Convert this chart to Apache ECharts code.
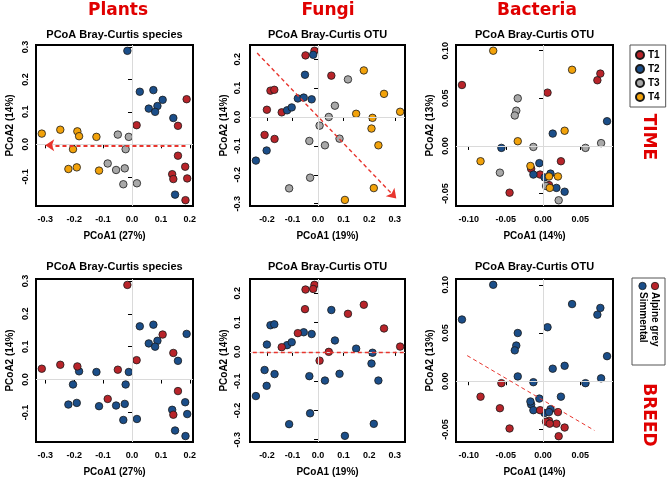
<!DOCTYPE html>
<html><head><meta charset="utf-8">
<script src="https://cdn.jsdelivr.net/npm/echarts@6/dist/echarts.min.js"></script>
<style>html,body{margin:0;padding:0;background:#fff}#c{width:667px;height:480px}</style>
</head><body><div id="c"></div>
<script>
// ---------- data ----------
const timeGroups = ['T1','T2','T3','T4'];
const breedGroups = ['Alpine grey','Simmental'];

const plantsX = [-0.016,0.027,0.074,0.106,0.058,0.088,0.080,0.143,0.149, 0.189,0.016,0.159,0.159,0.184,0.139,0.143,0.191,0.185, -0.049,-0.011,-0.022,-0.084,-0.055,-0.025,-0.030,0.017, -0.312,-0.248,-0.189,-0.183,-0.123,-0.204,-0.220,-0.191,-0.114];
const plantsY = [0.288,0.162,0.167,0.137,0.110,0.118,0.100,0.081,-0.155, 0.139,0.059,0.057,-0.035,-0.069,-0.092,-0.107,-0.105,-0.172, 0.030,0.023,-0.015,-0.059,-0.079,-0.074,-0.123,-0.120, 0.033,0.045,0.040,0.025,0.023,-0.015,-0.076,-0.071,-0.081];
const plantsTime = ['T2','T2','T2','T2','T2','T2','T2','T2','T2', 'T1','T1','T1','T1','T1','T1','T1','T1','T1', 'T3','T3','T3','T3','T3','T3','T3','T3', 'T4','T4','T4','T4','T4','T4','T4','T4','T4'];
const plantsBreed = ['A','S','S','A','S','S','S','A','S', 'S','A','S','A','S','S','A','S','S', 'A','S','S','A','S','S','S','S', 'A','A','A','S','S','S','S','S','S'];

const fungiX = [-0.014,-0.049,0.052,-0.186,-0.171,-0.200,-0.142,-0.209,-0.170, -0.019,-0.051,-0.079,-0.056,-0.025,-0.121,-0.103,-0.201,-0.243, 0.117,0.066,0.042,0.006,-0.034,0.027,0.084,-0.031,-0.113, 0.179,0.258,0.321,0.149,0.213,0.209,0.236,0.218,0.105];
const fungiY = [0.229,0.213,0.143,0.091,0.094,0.025,0.016,-0.062,-0.076, 0.215,0.146,0.064,0.067,0.061,0.023,0.033,-0.116,-0.151, 0.130,0.039,0.000,-0.030,-0.083,-0.098,-0.075,-0.210,-0.247, 0.161,0.080,0.018,0.011,-0.003,-0.040,-0.098,-0.246,-0.287];
const fungiTime = ['T1','T1','T1','T1','T1','T1','T1','T1','T1', 'T2','T2','T2','T2','T2','T2','T2','T2','T2', 'T3','T3','T3','T3','T3','T3','T3','T3','T3', 'T4','T4','T4','T4','T4','T4','T4','T4','T4'];
const fungiBreed = ['A','A','S','S','S','S','A','S','S', 'A','A','A','S','S','S','S','S','S', 'A','S','A','A','S','S','S','S','S', 'A','A','A','S','S','S','S','S','S'];

const bactX = [-0.109,0.006,0.073,0.077,0.024,-0.016,-0.004,0.008,-0.045, -0.056,0.013,0.086,-0.005,-0.013,0.002,0.010,0.018,0.029, -0.034,-0.036,-0.038,-0.013,0.057,0.078,-0.058,0.004,0.021, -0.067,0.039,0.029,-0.034,-0.084,-0.017,0.008,0.020,0.009];
const bactY = [0.064,0.056,0.069,0.076,-0.016,-0.024,-0.030,-0.041,-0.049, -0.002,0.013,0.026,-0.018,-0.030,-0.033,-0.029,-0.044,-0.048, 0.050,0.037,0.032,-0.001,-0.002,0.003,-0.028,-0.042,-0.057, 0.100,0.080,0.016,0.005,-0.016,-0.021,-0.032,-0.032,-0.044];
const bactTime = ['T1','T1','T1','T1','T1','T1','T1','T1','T1', 'T2','T2','T2','T2','T2','T2','T2','T2','T2', 'T3','T3','T3','T3','T3','T3','T3','T3','T3', 'T4','T4','T4','T4','T4','T4','T4','T4','T4'];
const bactBreed = ['S','S','S','S','S','S','A','A','A', 'A','S','S','S','S','S','S','A','A', 'S','S','S','S','S','S','A','A','A', 'S','S','S','S','A','S','S','A','A'];

const plantsXTicks = [-0.3,-0.2,-0.1,0.0,0.1,0.2];
const plantsYTicks = [-0.1,0.0,0.1,0.2,0.3];
const fungiXTicks = [-0.2,-0.1,0.0,0.1,0.2,0.3];
const fungiYTicks = [-0.3,-0.2,-0.1,0.0,0.1,0.2];
const bactXTicks = [-0.10,-0.05,0.00,0.05];
const bactYTicks = [-0.05,0.00,0.05,0.10];

const plantsArrow = [[0.185,-0.003],[-0.300,-0.003]];
const fungiArrow = [[-0.238,0.221],[0.306,-0.282]];
const fungiBreedLine = [[-0.255,-0.003],[0.335,-0.003]];
const bactBreedLine = [[-0.102,0.0266],[0.069,-0.051]];

// ---------- styling ----------
const FONT = '"Liberation Sans", Arial, sans-serif';
const BIG = '"DejaVu Sans", sans-serif';
const timeColors = {T1:'#B8242A', T2:'#1B4E89', T3:'#A8A8A8', T4:'#F2A20A'};
const breedColors = {'A':'#B8242A', 'S':'#1B4E89'};
const breedName = {'A':'Alpine grey','S':'Simmental'};
const LINE_RED = '#E8352E';

const grids = [
  {left:36, top:45, width:157, height:161},
  {left:250, top:45, width:155, height:161},
  {left:456, top:45, width:157, height:161},
  {left:36, top:279, width:157, height:163},
  {left:250, top:279, width:155, height:163},
  {left:456, top:279, width:157, height:163}
].map(g => Object.assign(g, {show:true, borderColor:'#000', borderWidth:2, backgroundColor:'transparent'}));

function xAx(i, min, max, ticks, dec, name){
  return {type:'value', gridIndex:i, min:min, max:max, name:name, nameLocation:'middle', nameGap:25,
    nameTextStyle:{fontFamily:FONT, fontWeight:'bold', fontSize:10, color:'#000'},
    axisLine:{show:false}, splitLine:{show:false},
    axisTick:{show:true, inside:false, length:4, customValues:ticks, lineStyle:{color:'#000', width:1}},
    axisLabel:{customValues:ticks, formatter:v=>Number(v).toFixed(dec), margin:9, fontSize:9, fontWeight:'bold', color:'#000', fontFamily:FONT}};
}
function yAx(i, min, max, ticks, dec, name, m){
  return {type:'value', gridIndex:i, min:min, max:max, name:name, nameLocation:'middle', nameGap:21, nameRotate:90,
    nameTextStyle:{fontFamily:FONT, fontWeight:'bold', fontSize:10, color:'#000'},
    axisLine:{show:false}, splitLine:{show:false},
    axisTick:{show:true, inside:false, length:4, customValues:ticks, lineStyle:{color:'#000', width:1}},
    axisLabel:{customValues:ticks, rotate:90, formatter:v=>Number(v).toFixed(dec), margin:m, fontSize:9, fontWeight:'bold', color:'#000', fontFamily:FONT}};
}

const xAxes = [
  xAx(0,-0.332,0.211,plantsXTicks,1,'PCoA1 (27%)'),
  xAx(1,-0.266,0.340,fungiXTicks,1,'PCoA1 (19%)'),
  xAx(2,-0.117,0.094,bactXTicks,2,'PCoA1 (14%)'),
  xAx(3,-0.332,0.211,plantsXTicks,1,'PCoA1 (27%)'),
  xAx(4,-0.266,0.340,fungiXTicks,1,'PCoA1 (19%)'),
  xAx(5,-0.117,0.094,bactXTicks,2,'PCoA1 (14%)')
];
const yAxes = [
  yAx(0,-0.190,0.306,plantsYTicks,1,'PCoA2 (14%)',6),
  yAx(1,-0.308,0.249,fungiYTicks,1,'PCoA2 (14%)',8),
  yAx(2,-0.063,0.106,bactYTicks,2,'PCoA2 (13%)',6),
  yAx(3,-0.190,0.306,plantsYTicks,1,'PCoA2 (14%)',6),
  yAx(4,-0.308,0.249,fungiYTicks,1,'PCoA2 (14%)',8),
  yAx(5,-0.063,0.106,bactYTicks,2,'PCoA2 (13%)',6)
];

const series = [];
function zeroLines(i){
  series.push({type:'scatter', xAxisIndex:i, yAxisIndex:i, data:[[0,0]], symbolSize:0, silent:true, z:1,
    markLine:{silent:true, animation:false, symbol:'none', label:{show:false},
      lineStyle:{color:'#dadada', type:'solid', width:1}, data:[{xAxis:0},{yAxis:0}]}});
}
function dashLine(i, pts, arrow, width){
  series.push({type:'scatter', xAxisIndex:i, yAxisIndex:i, data:[pts[0]], symbolSize:0, silent:true, z:5,
    markLine:{silent:true, animation:false, symbol: arrow ? ['none','arrow'] : ['none','none'], symbolSize: 9,
      label:{show:false}, lineStyle:{color:LINE_RED, type:[4,3], width:width},
      data:[[{coord:pts[0]},{coord:pts[1]}]]}});
}
function points(i, X, Y, G, groups, colors, nameMap){
  groups.forEach(g => {
    const d = [];
    X.forEach((x,k) => { if (G[k] === g) d.push([x, Y[k]]); });
    series.push({type:'scatter', name: nameMap ? nameMap[g] : g, xAxisIndex:i, yAxisIndex:i, data:d, symbol:'circle', symbolSize:7.5, z:3,
      itemStyle:{color:colors[g], borderColor:'#1a1a1a', borderWidth:0.8, opacity:1}, animation:false});
  });
}

// top row: TIME
zeroLines(0); points(0, plantsX, plantsY, plantsTime, timeGroups, timeColors); dashLine(0, plantsArrow, true, 2);
zeroLines(1); points(1, fungiX, fungiY, fungiTime, timeGroups, timeColors); dashLine(1, fungiArrow, true, 1.4);
zeroLines(2); points(2, bactX, bactY, bactTime, timeGroups, timeColors);
// bottom row: BREED
zeroLines(3); points(3, plantsX, plantsY, plantsBreed, ['S','A'], breedColors, breedName);
zeroLines(4); points(4, fungiX, fungiY, fungiBreed, ['S','A'], breedColors, breedName); dashLine(4, fungiBreedLine, false, 1.4);
zeroLines(5); points(5, bactX, bactY, bactBreed, ['S','A'], breedColors, breedName); dashLine(5, bactBreedLine, false, 1);

function txt(x, y, s, font, fill, rot, align){
  return {type:'text', x:x, y:y, rotation: rot || 0, silent:true,
    style:{text:s, font:font, fill:fill, textAlign:align || 'center', textVerticalAlign:'middle', align:align || 'center', verticalAlign:'middle'}};
}
const RED = '#E00000';
const graphics = [
  txt(118, 11, 'Plants', 'bold 17px ' + BIG, RED),
  txt(328, 11, 'Fungi', 'bold 17px ' + BIG, RED),
  txt(537, 11, 'Bacteria', 'bold 17px ' + BIG, RED),
  txt(114.5, 35, 'PCoA Bray-Curtis species', 'bold 11px ' + FONT, '#000'),
  txt(327.5, 35, 'PCoA Bray-Curtis OTU', 'bold 11px ' + FONT, '#000'),
  txt(534.5, 35, 'PCoA Bray-Curtis OTU', 'bold 11px ' + FONT, '#000'),
  txt(114.5, 267, 'PCoA Bray-Curtis species', 'bold 11px ' + FONT, '#000'),
  txt(327.5, 267, 'PCoA Bray-Curtis OTU', 'bold 11px ' + FONT, '#000'),
  txt(534.5, 267, 'PCoA Bray-Curtis OTU', 'bold 11px ' + FONT, '#000'),
  txt(648, 137, 'TIME', 'bold 17px ' + BIG, RED, -Math.PI/2),
  txt(648, 415, 'BREED', 'bold 17px ' + BIG, RED, -Math.PI/2),
  {type:'rect', shape:{x:632, y:278, width:33, height:87}, style:{fill:'#fff', stroke:'#555', lineWidth:1}, silent:true},
  {type:'circle', shape:{cx:655, cy:286, r:3.7}, style:{fill:breedColors.A, stroke:'#1a1a1a', lineWidth:0.8}, silent:true},
  {type:'circle', shape:{cx:642.5, cy:286, r:3.7}, style:{fill:breedColors.S, stroke:'#1a1a1a', lineWidth:0.8}, silent:true},
  txt(655, 292, breedGroups[0], 'bold 10px ' + FONT, '#000', -Math.PI/2, 'left'),
  txt(642.5, 292, breedGroups[1], 'bold 10px ' + FONT, '#000', -Math.PI/2, 'left')
];

const chart = echarts.init(document.getElementById('c'), null, {renderer:'canvas'});
chart.setOption({
  animation:false,
  backgroundColor:'#fff',
  grid: grids,
  xAxis: xAxes,
  yAxis: yAxes,
  legend: {data: timeGroups, orient:'vertical', left:630, top:45, selectedMode:false, icon:'circle',
    itemWidth:8, itemHeight:8, itemGap:4, padding:[5,6,5,5], borderColor:'#555', borderWidth:1,
    textStyle:{fontFamily:FONT, fontWeight:'bold', fontSize:10, color:'#000', padding:[0,0,0,-1]}},
  graphic: graphics,
  series: series
});
</script></body></html>
